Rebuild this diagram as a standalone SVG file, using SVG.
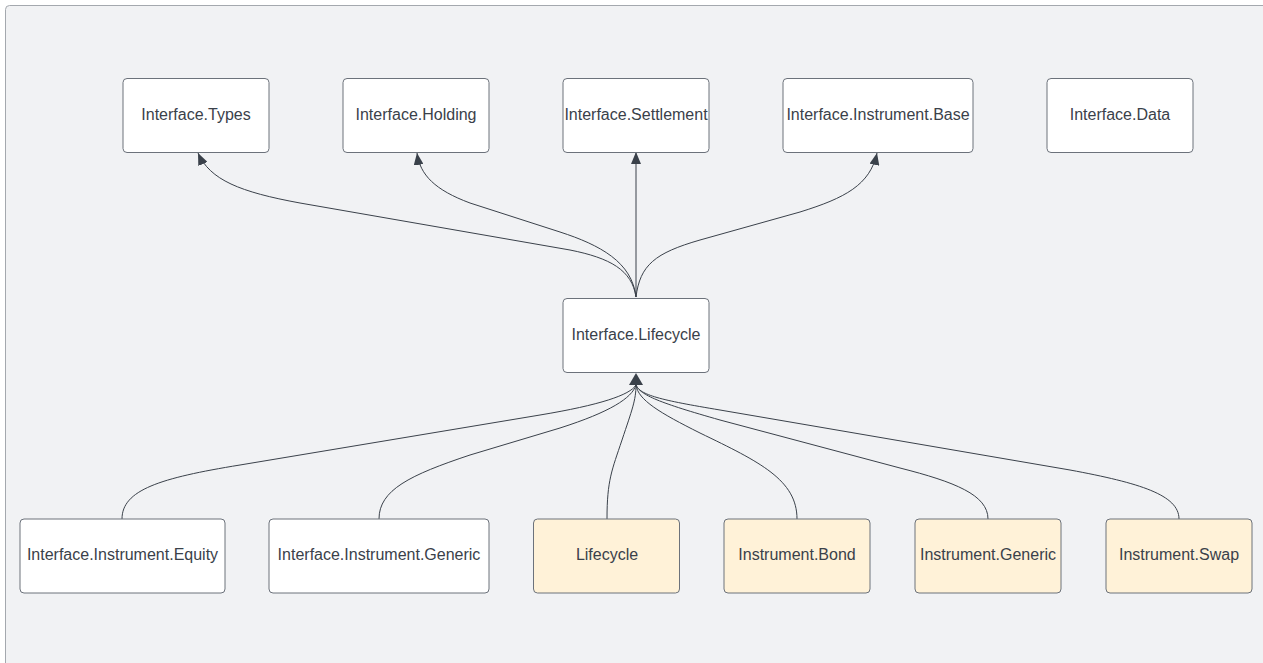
<svg xmlns="http://www.w3.org/2000/svg" width="1263" height="663" viewBox="0 0 1263 663">
<style>
.bg{fill:#f1f2f4;stroke:#a4a8ae;stroke-width:1}
.n rect{fill:#ffffff;stroke:#6c727b;stroke-width:1}
.y rect{fill:#fff2d8}
.n text{font-family:"Liberation Sans",Arial,sans-serif;font-size:16px;fill:#3a414a;text-anchor:middle;dominant-baseline:central}
.e path{fill:none;stroke:#3a414a;stroke-width:1}
.head{fill:#3a414a;stroke:none}
</style>
<defs>
<marker id="ah" markerUnits="userSpaceOnUse" markerWidth="12" markerHeight="10" refX="12" refY="5" orient="auto" viewBox="0 0 12 10">
<polygon points="0,0 12,5 0,10" class="head"/>
</marker>
</defs>
<rect x="0" y="0" width="1263" height="663" fill="#ffffff"/>
<rect class="bg" x="5.5" y="5.5" width="1270" height="670" rx="4"/>
<g class="e" id="connectors">
<path d="M636,297 C632,270 610,258 570,250 L300,203 C240,192 210,180 198,153" marker-end="url(#ah)"/>
<path d="M636,297 C632,262 600,245 560,232 L470,203 C435,190 420,175 417,153" marker-end="url(#ah)"/>
<path d="M636,297 L636,152" marker-end="url(#ah)"/>
<path d="M636,297 C640,265 655,253 700,240 L800,212 C845,198 870,185 877,153" marker-end="url(#ah)"/>
<path d="M122,519 C122,490 160,478 240,465 L540,415 C600,405 630,395 636,385"/>
<path d="M379,519 C379,490 410,475 470,455 L560,428 C610,412 632,398 636,385"/>
<path d="M607,519 C607,480 612,470 622,440 C632,410 636,400 636,385"/>
<path d="M797,519 C797,480 760,462 700,433 C660,413 638,400 636,385"/>
<path d="M988,519 C988,495 955,482 900,468 L720,420 C660,403 640,395 636,385"/>
<path d="M1179,519 C1179,495 1140,483 1070,470 L720,410 C660,400 640,395 636,385"/>
<polygon class="head" points="636,373 643,385 629,385"/>
</g>
<g class="n" id="types"><rect x="123" y="78.5" width="146" height="74" rx="4"/><text x="196" y="114">Interface.Types</text></g>
<g class="n" id="holding"><rect x="343" y="78.5" width="146" height="74" rx="4"/><text x="416" y="114">Interface.Holding</text></g>
<g class="n" id="settlement"><rect x="563" y="78.5" width="146" height="74" rx="4"/><text x="636" y="114">Interface.Settlement</text></g>
<g class="n" id="instrumentbase"><rect x="783" y="78.5" width="190" height="74" rx="4"/><text x="878" y="114">Interface.Instrument.Base</text></g>
<g class="n" id="data"><rect x="1047" y="78.5" width="146" height="74" rx="4"/><text x="1120" y="114">Interface.Data</text></g>
<g class="n" id="ilifecycle"><rect x="563" y="298.5" width="146" height="74" rx="4"/><text x="636" y="334">Interface.Lifecycle</text></g>
<g class="n" id="equity"><rect x="20" y="519" width="205" height="74" rx="4"/><text x="122.5" y="554">Interface.Instrument.Equity</text></g>
<g class="n" id="igeneric"><rect x="269" y="519" width="220" height="74" rx="4"/><text x="379" y="554">Interface.Instrument.Generic</text></g>
<g class="n y" id="lifecycle"><rect x="533.5" y="519" width="146" height="74" rx="4"/><text x="607" y="554">Lifecycle</text></g>
<g class="n y" id="bond"><rect x="724" y="519" width="146" height="74" rx="4"/><text x="797" y="554">Instrument.Bond</text></g>
<g class="n y" id="generic"><rect x="915" y="519" width="146" height="74" rx="4"/><text x="988" y="554">Instrument.Generic</text></g>
<g class="n y" id="swap"><rect x="1106" y="519" width="146" height="74" rx="4"/><text x="1179" y="554">Instrument.Swap</text></g>
</svg>
